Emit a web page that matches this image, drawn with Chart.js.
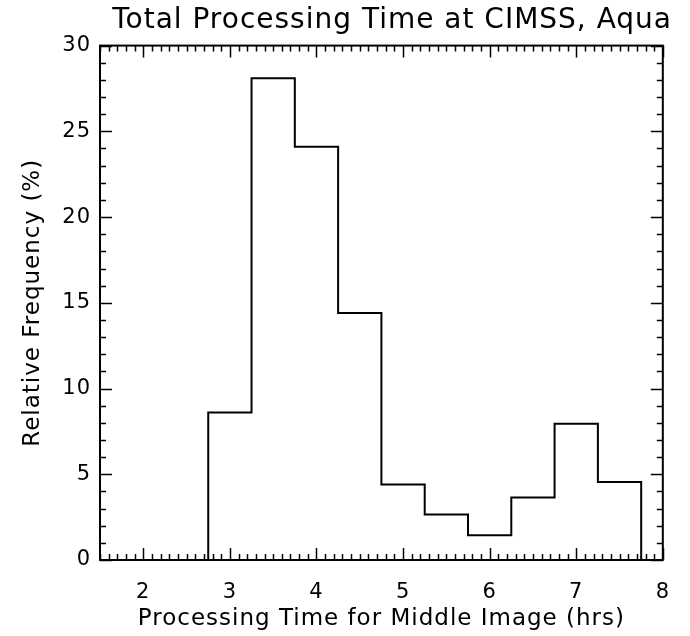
<!DOCTYPE html>
<html>
<head>
<meta charset="utf-8">
<script src="https://cdn.jsdelivr.net/npm/chart.js@4/dist/chart.umd.min.js"></script>
<style>
  body { margin: 0; background: #fff; }
  #boite { width: 690px; height: 636px; }
</style>
</head>
<body>
<div id="boite"><canvas id="chart"></canvas></div>
<script>
// classes de l'histogramme (heures) et frequences relatives (%)
const debutClasse = [2.75, 3.25, 3.75, 4.25, 4.75, 5.25, 5.75, 6.25, 6.75, 7.25];
const finClasse = [3.25, 3.75, 4.25, 4.75, 5.25, 5.75, 6.25, 6.75, 7.25, 7.75];
const frequence = [8.6, 28.1, 24.1, 14.4, 4.4, 2.65, 1.45, 3.65, 7.95, 4.55];
const ticksX = [2, 3, 4, 5, 6, 7, 8];
const ticksY = [0, 5, 10, 15, 20, 25, 30];

const police = "'DejaVu Sans', sans-serif";

// contour en escalier
let contour = [{x: debutClasse[0], y: 0}];
for (let i = 0; i < frequence.length; i++) {
  contour.push({x: debutClasse[i], y: frequence[i]});
  contour.push({x: finClasse[i], y: frequence[i]});
}
contour.push({x: finClasse[finClasse.length - 1], y: 0});

// texte un peu plus large, comme la police vectorielle d'origine
const espacement = {
  id: 'espacement',
  beforeUpdate(chart) { chart.ctx.letterSpacing = '1px'; },
  beforeDraw(chart) { chart.ctx.letterSpacing = '1px'; }
};

// cadre + graduations a l'interieur (style IDL)
const cadre = {
  id: 'cadre',
  afterDraw(chart) {
    const ctx = chart.ctx;
    const a = chart.chartArea;
    const x = chart.scales.x;
    const y = chart.scales.y;
    ctx.save();
    ctx.strokeStyle = '#000';
    ctx.lineWidth = 1.5;
    ctx.beginPath();
    for (let k = 15; k <= 80; k++) {
      const px = Math.round(x.getPixelForValue(k / 10)) + 0.5;
      const l = (k % 10 === 0) ? 12 : 6;
      ctx.moveTo(px, a.bottom); ctx.lineTo(px, a.bottom - l);
      ctx.moveTo(px, a.top); ctx.lineTo(px, a.top + l);
    }
    for (let k = 0; k <= 30; k++) {
      const py = Math.round(y.getPixelForValue(k)) + 0.5;
      const l = (k % 5 === 0) ? 12 : 6;
      ctx.moveTo(a.left, py); ctx.lineTo(a.left + l, py);
      ctx.moveTo(a.right, py); ctx.lineTo(a.right - l, py);
    }
    ctx.stroke();
    ctx.lineWidth = 2;
    ctx.strokeRect(a.left, a.top, a.right - a.left, a.bottom - a.top);
    ctx.restore();
  }
};

const ctx = document.getElementById('chart');
new Chart(ctx, {
  type: 'line',
  data: {
    datasets: [{
      data: contour,
      borderColor: '#000',
      borderWidth: 2,
      pointRadius: 0,
      fill: false,
      tension: 0
    }]
  },
  options: {
    responsive: true,
    maintainAspectRatio: false,
    animation: false,
    layout: {
      padding: {left: 0, right: 18, top: 0, bottom: 0}
    },
    plugins: {
      legend: { display: false },
      tooltip: { enabled: false },
      title: {
        display: true,
        text: 'Total Processing Time at CIMSS, Aqua',
        align: 'end',
        color: '#000',
        font: { family: police, size: 28, weight: 'normal' },
        padding: { top: 4, bottom: 8 }
      }
    },
    scales: {
      x: {
        type: 'linear',
        min: 1.5,
        max: 8,
        afterBuildTicks: function (s) { s.ticks = ticksX.map(v => ({value: v})); },
        afterFit: function (s) { s.height = 76; },
        grid: { display: false, drawTicks: false },
        border: { display: false },
        ticks: {
          color: '#000',
          padding: 20,
          maxRotation: 0,
          font: { family: police, size: 21 }
        },
        title: {
          display: true,
          text: 'Processing Time for Middle Image (hrs)',
          color: '#000',
          font: { family: police, size: 23 },
          padding: { top: 0, bottom: 3 }
        }
      },
      y: {
        min: 0,
        max: 30,
        afterBuildTicks: function (s) { s.ticks = ticksY.map(v => ({value: v})); },
        afterFit: function (s) { s.width = 100; },
        grid: { display: false, drawTicks: false },
        border: { display: false },
        ticks: {
          color: '#000',
          padding: 9,
          font: { family: police, size: 21 }
        },
        title: {
          display: true,
          text: 'Relative Frequency (%)',
          color: '#000',
          font: { family: police, size: 23 },
          padding: { top: 19, bottom: 0 }
        }
      },
      y2: {
        position: 'right',
        display: true,
        afterFit: function (s) { s.width = 8; },
        grid: { display: false, drawTicks: false },
        border: { display: false },
        ticks: { display: false }
      }
    }
  },
  plugins: [espacement, cadre]
});
</script>
</body>
</html>
